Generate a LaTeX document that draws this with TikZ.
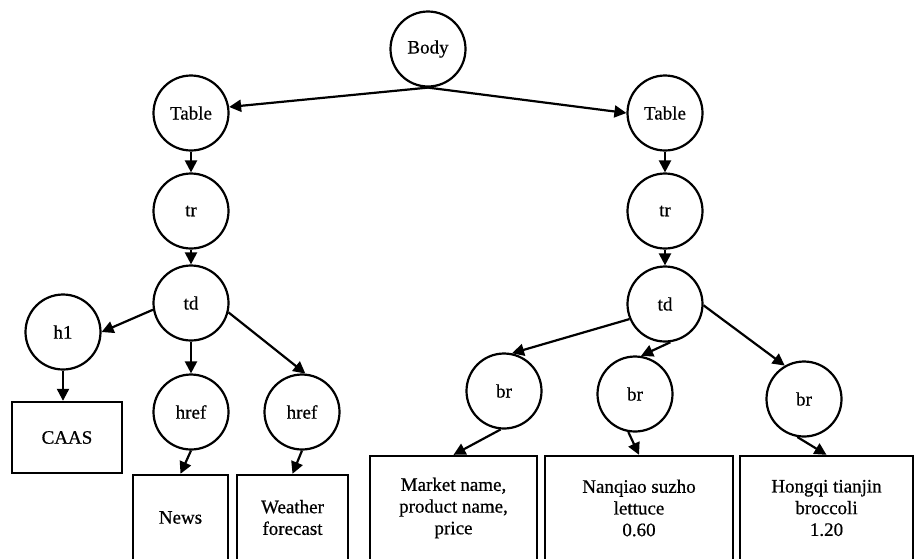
\documentclass[tikz,border=0pt]{standalone}
\usepackage{fontspec}
\setmainfont{Liberation Serif}
\newfontfamily\labelfont[FakeBold=0.6]{Liberation Serif}
\usetikzlibrary{arrows.meta}
\begin{document}
\begin{tikzpicture}[x=1pt,y=-1pt,
  tag/.style={circle,draw,line width=2.2pt,minimum size=75pt,inner sep=0pt,
              font=\labelfont\fontsize{19}{22}\selectfont},
  leaf/.style={rectangle,draw,line width=2.4pt,inner sep=0pt,align=center,
               font=\labelfont\fontsize{19}{21.7}\selectfont},
  link/.style={line width=2.2pt,-{Triangle[length=12pt,width=12pt]}}
]
\useasboundingbox (0,0) rectangle (920,558);
\clip (0,0) rectangle (920,558);

% element nodes
\node[tag] (body)  at (428,49)  {Body};
\node[tag] (tabL)  at (191,113) {Table};
\node[tag] (trL)   at (191,211) {tr};
\node[tag] (tdL)   at (191,303) {td};
\node[tag] (h1)    at (63,332)  {h1};
\node[tag] (hrefA) at (191,412) {href};
\node[tag] (hrefB) at (302,412) {href};
\node[tag] (tabR)  at (665,113) {Table};
\node[tag] (trR)   at (665,211) {tr};
\node[tag] (tdR)   at (665,304) {td};
\node[tag] (brA)   at (504,391) {br};
\node[tag] (brB)   at (635,394) {br};
\node[tag] (brC)   at (804,399) {br};

% text content boxes
\node[leaf,minimum width=110pt,minimum height=71pt] (caas) at (67,437.5) {CAAS};
\node[leaf,minimum width=95pt,minimum height=85pt] (news) at (180.5,517.5) {News};
\node[leaf,minimum width=111pt,minimum height=85pt] (wf) at (292.5,517.5) {Weather\\forecast};
\node[leaf,minimum width=167pt,minimum height=104pt] (mkt) at (453.5,508) {Market name,\\product name,\\price};
\node[leaf,minimum width=188pt,minimum height=104pt] (nq) at (639,508) {Nanqiao suzho\\lettuce\\0.60};
\node[leaf,minimum width=173pt,minimum height=104pt] (hq) at (826.5,508) {Hongqi tianjin\\broccoli\\1.20};

% edges
\draw[link] (body.south) -- (tabL.9);
\draw[link] (body.south) -- (tabR.west);
\draw[link] (tabL.south) -- (trL.north);
\draw[link] (trL.south) -- (tdL.north);
\draw[link] (tabR.south) -- (trR.north);
\draw[link] (trR.south) -- (tdR.north);
\draw[link] (tdL.190) -- (h1.0);
\draw[link] (tdL.south) -- (hrefA.north);
\draw[link] (tdL.346) -- (hrefB.85);
\draw[link] (h1.south) -- (h1.south |- caas.north);
\draw[link] (hrefA.south) -- (news.north);
\draw[link] (hrefB.south) -- (wf.north);
\draw[link] (tdR.203) -- (brA.78);
\draw[link] (tdR.278) -- (brB.81);
\draw[link] (tdR.358) -- (brC.120);
\draw[link] (brA.265) -- (mkt.north);
\draw[link] (brB.260) -- (nq.north);
\draw[link] (brC.260) -- (hq.north);
\end{tikzpicture}
\end{document}
